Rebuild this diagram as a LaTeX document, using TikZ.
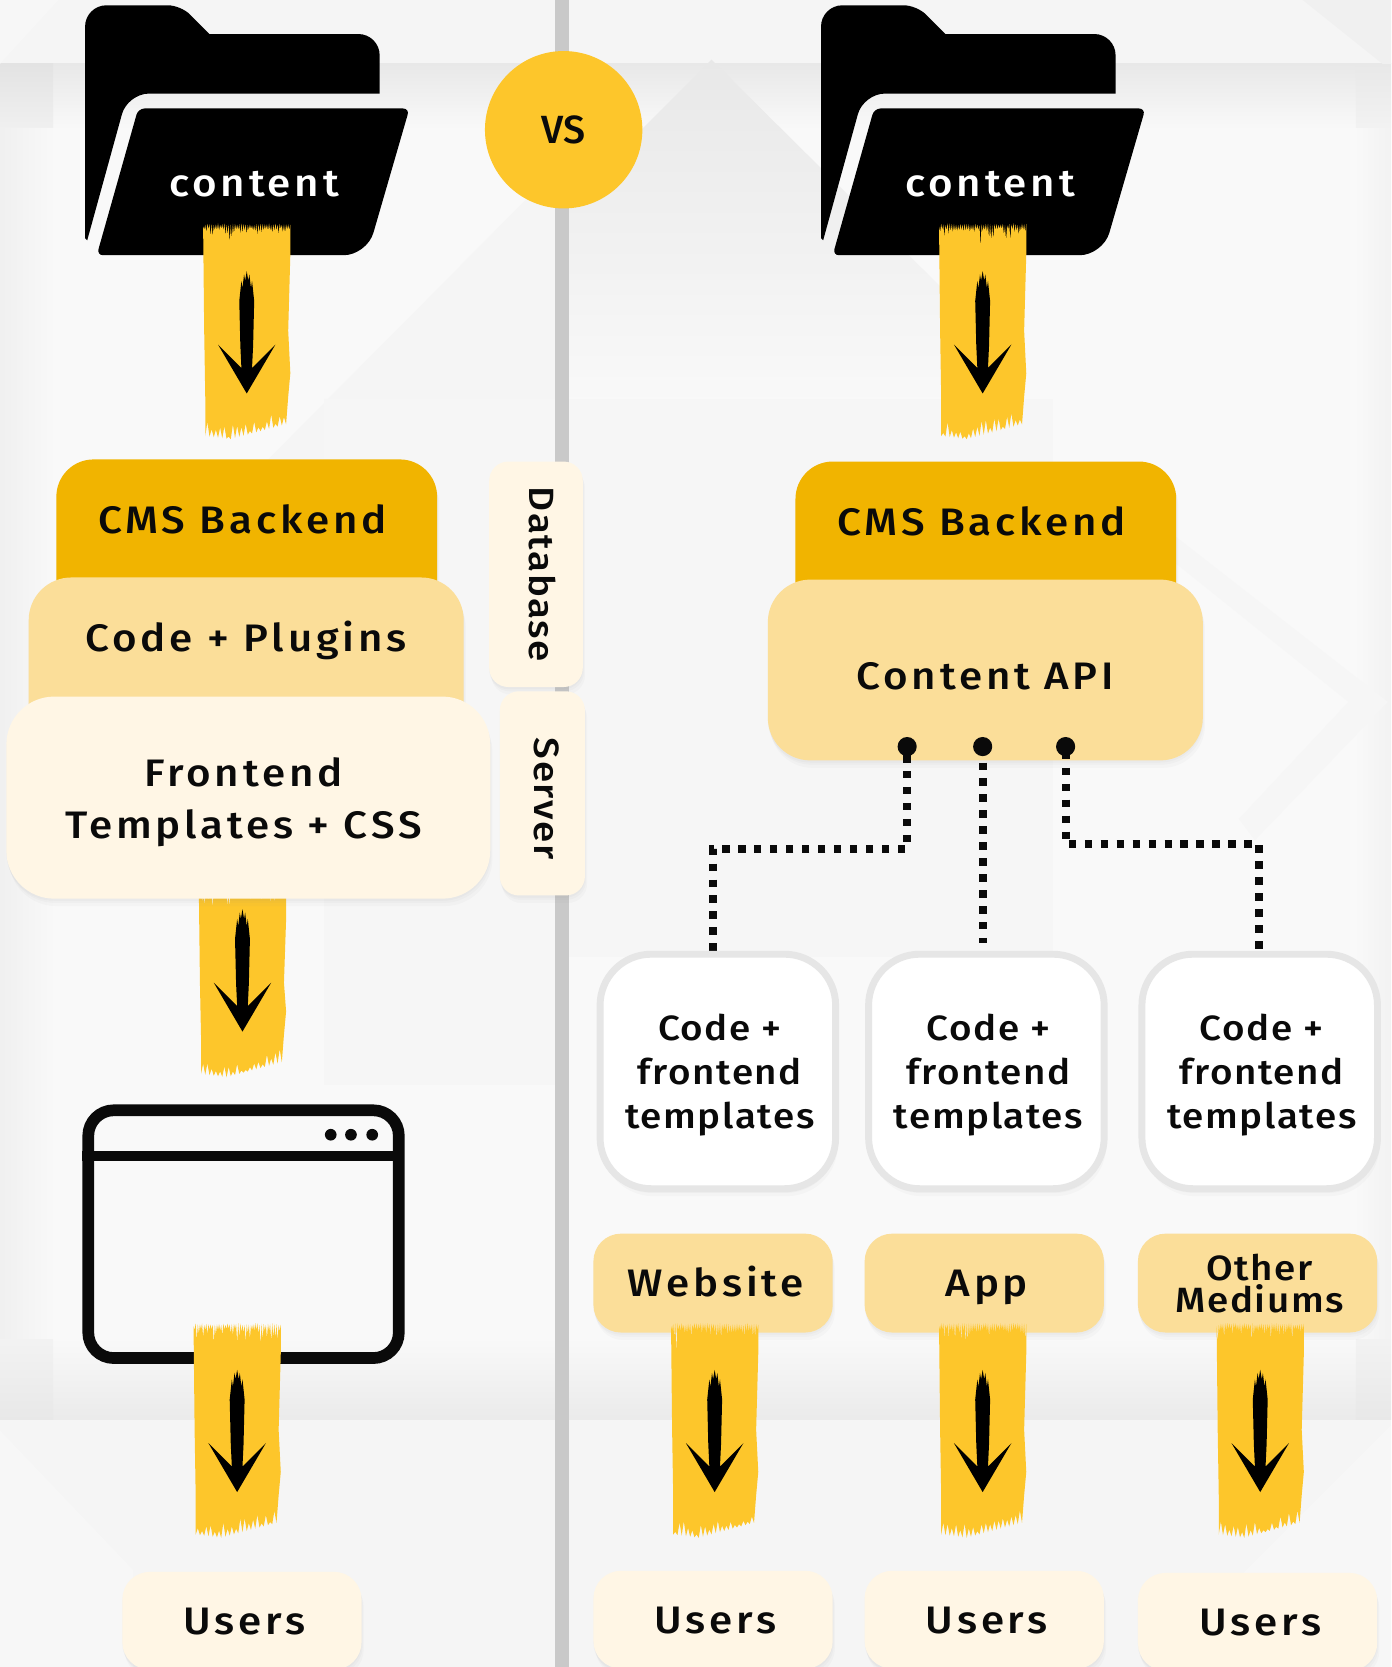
\documentclass[tikz,border=0pt]{standalone}
\usepackage{fontspec}
\usepackage{xcolor}
\usetikzlibrary{shadows}
\newfontfamily\diagfont[LetterSpace=10,FakeStretch=1.1]{Fira Sans Medium}
\newfontfamily\tightfont[LetterSpace=4.5,FakeStretch=1.1]{Fira Sans Medium}
\definecolor{brushyellow}{HTML}{FDC62B}
\definecolor{backendgold}{HTML}{F1B400}
\definecolor{apipeach}{HTML}{FBDE99}
\definecolor{frontcream}{HTML}{FFF6E5}
\definecolor{dividergrey}{HTML}{C9C9C9}
\definecolor{edgegrey}{HTML}{E6E6E6}
\definecolor{inkblack}{HTML}{0A0A0A}
\tikzset{
  softshadow/.style={
    drop shadow={opacity=.04,shadow xshift=0pt,shadow yshift=-2pt},
    drop shadow={opacity=.04,shadow xshift=1pt,shadow yshift=-4pt},
    drop shadow={opacity=.04,shadow xshift=2pt,shadow yshift=-7pt}},
  layerbox/.style={rounded corners=#1,inner sep=0pt,softshadow,text=inkblack,align=center},
  bigtext/.style={font=\diagfont\fontsize{36}{49}\selectfont},
  midtext/.style={font=\tightfont\fontsize{33}{41.5}\selectfont},
  oneline/.style={text height=26pt,text depth=0pt},
  routeline/.style={line width=7.5pt,dash pattern=on 7pt off 8pt,inkblack},
  routedot/.style={circle,fill=inkblack,minimum size=18pt,inner sep=0pt},
}
% one brush stroke with its arrow: centre x, top y, height, arrow start
\newcommand{\brushstroke}[4]{
\begin{scope}[shift={(#1,#2)}]
\fill [brushyellow] (-41,4)
  \foreach \i in {1,...,82} { -- ({-41+\i*1},{1+mod(\i,2)*(5+26*rnd*rnd*rnd)+2*rnd}) }
  -- (41,30) -- (39,{#3*.5}) -- (41,{#3-62}) -- (39,{#3-40}) -- (37,{#3-14})
  \foreach \i in {1,...,38} { -- ({37-\i*2},{#3-14*(1-\i/26)*(\i<26)-(\i/4-6.5)*(\i>=26)-mod(\i,2)*(2+12*rnd)}) }
  -- (-39,{#3-12}) -- (-39,{#3-40}) -- (-40,{#3*.5}) -- cycle ;
\fill [black] (0,#4) -- (1.5,#4+9) -- (2.5,#4+3) -- (4,#4+16) -- (5,#4+9) -- (7,#4+28) -- (6,#4+70) -- (5,#4+91) -- (27,#4+69) -- (0,#4+115)
  -- (-27,#4+69) -- (-5,#4+91) -- (-6,#4+70) -- (-7,#4+28) -- (-5,#4+9) -- (-4,#4+16) -- (-2.5,#4+3) -- (-1.5,#4+9) -- cycle ;
\end{scope}
}
% folder icon, the shift moves it to its column
\newcommand{\foldericon}[1]{
\begin{scope}[shift={(#1,0)}]
\fill [black] (80,224) [rounded corners=20pt] -- (80,5) [rounded corners=12pt] -- (170,5) [sharp corners] -- (197,32)
  [rounded corners=20pt] -- (357,32) [sharp corners] -- (357,88) [rounded corners=20pt] -- (120,88) [sharp corners] -- (82,226) -- cycle ;
\fill [black] (250,102) [rounded corners=6pt] -- (385,102) [rounded corners=22pt] -- (345,240) [rounded corners=6pt]
  -- (91,240) -- (130,102) -- cycle ;
\end{scope}
}
\pgfmathsetseed{11}
\begin{document}
\begin{tikzpicture}[x=1pt,y=-1pt]
\useasboundingbox (0,0) rectangle (1308,1567.5) ;

%backdrop
\fill [color=black!4] (0,0) rectangle (1308,1567.5) ;
\fill [color=black!2.5] (0,60) rectangle (1308,1335) ;
\shade [left color=black!6,right color=black!2.5] (0,60) rectangle (50,1335) ;
\shade [left color=black!2.5,right color=black!5] (1275,60) rectangle (1308,1335) ;
\shade [top color=black!9,bottom color=black!2.5] (50,60) rectangle (1275,120) ;
\shade [top color=black!2.5,bottom color=black!8] (50,1260) rectangle (1275,1335) ;
\shade [top color=black!11,bottom color=black!6] (0,60) rectangle (50,120) ;
\shade [top color=black!9,bottom color=black!5] (1275,60) rectangle (1308,120) ;
\shade [top color=black!5,bottom color=black!9] (0,1260) rectangle (50,1335) ;
\shade [top color=black!5,bottom color=black!9] (1275,1260) rectangle (1308,1335) ;
\shade [top color=black!9,bottom color=black!2] (535,190) -- (669,56) -- (900,285) -- (900,400) -- (535,400) -- cycle ;
\fill [color=black!4] (522,160) -- (252,432) -- (305,432) -- (305,375) -- (522,375) -- cycle ;
\fill [color=black!3.5] (305,375) rectangle (522,1020) ;
\fill [color=black!3.5] (535,375) rectangle (990,900) ;
\fill [color=black!3.5] (1106,505) -- (1305,660) -- (1180,790) -- (1165,770) -- (1268,660) -- (1106,530) -- cycle ;
\fill [color=black!3] (0,0) -- (55,0) -- (0,60) -- cycle ;
\fill [color=black!6] (1225,0) -- (1300,60) -- (1308,60) -- (1308,0) -- cycle ;
\fill [color=black!3] (0,1345) -- (125,1476) -- (125,1567.5) -- (0,1567.5) -- cycle ;
\fill [color=black!3] (1308,1340) -- (1168,1480) -- (1168,1567.5) -- (1308,1567.5) -- cycle ;

%divider
\fill [color=dividergrey] (522,0) rectangle (535,1567.5) ;

%VS badge
\node (vsBadge) [circle,fill=brushyellow,minimum size=148pt,inner sep=0pt,text=inkblack,font=\fontspec{Fira Sans Medium}\fontsize{37}{37}\selectfont] at (530,122) {VS} ;

%folders
\foldericon{0}
\foldericon{692}
\node (contentLeft) [text=white,bigtext] at (239,173) {content} ;
\node (contentRight) [text=white,bigtext] at (931,173) {content} ;

%strokes below the folders
\brushstroke{232}{209}{204}{46}
\brushstroke{924}{209}{204}{46}

%left stack
\brushstroke{228}{835}{178}{20}
\node (backendLeft) [layerbox=35pt,fill=backendgold,bigtext,minimum width=358pt,minimum height=168pt,text height=0pt,text depth=28pt] at (232,516) {CMS Backend\kern8pt} ;
\node (pluginsLeft) [layerbox=40pt,fill=apipeach,bigtext,minimum width=409pt,minimum height=177pt,text height=0pt,text depth=37pt] at (231.5,631.5) {Code + Plugins} ;
\node (frontendLeft) [layerbox=45pt,fill=frontcream,bigtext,minimum width=455pt,minimum height=190pt] at (233.5,750) {\rule{0pt}{36pt}Frontend\kern9pt\\Templates + CSS\kern9pt} ;

%side tabs
\node (databaseTab) [layerbox=18pt,fill=frontcream,midtext,rotate=-90,minimum width=212pt,minimum height=88pt,text height=12pt,text depth=0pt] at (504,540) {Database} ;
\node (serverTab) [layerbox=18pt,fill=frontcream,midtext,rotate=-90,minimum width=192pt,minimum height=80pt,text height=15pt,text depth=0pt] at (510,746) {\kern10pt Server} ;

%browser window
\node (windowFrame) [draw=inkblack,line width=11pt,rounded corners=24pt,minimum width=292pt,minimum height=233pt,inner sep=0pt] at (229,1160.5) {} ;
\coordinate (windowBarEnd) at (375,1087) ;
\draw [line width=9pt,inkblack] (windowFrame.west |- windowBarEnd) -- (windowBarEnd) ;
\foreach \dotx/\dotname in {311/A,330/B,350/C}
  \node (windowDot\dotname) [circle,fill=inkblack,minimum size=11pt,inner sep=0pt] at (\dotx,1067) {} ;
\brushstroke{223}{1243}{203}{45}

%right stack
\node (backendRight) [layerbox=35pt,fill=backendgold,bigtext,minimum width=358pt,minimum height=166pt,text height=0pt,text depth=26pt] at (927,517) {CMS Backend\kern8pt} ;
\node (apiRight) [layerbox=40pt,fill=apipeach,bigtext,minimum width=409pt,minimum height=170pt,text height=36pt,text depth=0pt] at (926.5,630) {Content API} ;

%api outlets
\node (outletA) [routedot] at (853,702) {} ;
\node (outletB) [routedot] at (924,702) {} ;
\node (outletC) [routedot] at (1002,702) {} ;

%routes from the api
\coordinate (routeEndA) at (670,896) ;
\coordinate (routeEndB) at (924,887) ;
\coordinate (routeEndC) at (1184,896) ;
\draw [routeline,dash phase=7pt] (outletA.center) -- ++(0,96) -| (routeEndA) ;
\draw [routeline] (outletB.center) -- (routeEndB) ;
\draw [routeline,dash phase=10pt] (outletC.center) -- ++(0,92) -| (routeEndC) ;

%template boxes
\node (templateA) [layerbox=48pt,fill=white,draw=edgegrey,line width=6.5pt,midtext,minimum width=221.5pt,minimum height=220.5pt] at (675,1007.5) {\rule{0pt}{32pt}\kern4ptCode +\\\kern4ptfrontend\\\kern4pttemplates} ;
\node (templateB) [layerbox=48pt,fill=white,draw=edgegrey,line width=6.5pt,midtext,minimum width=221.5pt,minimum height=220.5pt] at (927.5,1007.5) {\rule{0pt}{32pt}\kern4ptCode +\\\kern4ptfrontend\\\kern4pttemplates} ;
\node (templateC) [layerbox=48pt,fill=white,draw=edgegrey,line width=6.5pt,midtext,minimum width=221.5pt,minimum height=220.5pt] at (1184.5,1007.5) {\rule{0pt}{32pt}\kern4ptCode +\\\kern4ptfrontend\\\kern4pttemplates} ;

%mediums
\node (mediumWeb) [layerbox=26pt,fill=apipeach,bigtext,oneline,minimum width=225pt,minimum height=93pt] at (670.5,1206.5) {\kern5pt Website} ;
\node (mediumApp) [layerbox=26pt,fill=apipeach,bigtext,oneline,minimum width=225pt,minimum height=93pt] at (925.5,1206.5) {\kern5pt App} ;
\node (mediumOther) [layerbox=26pt,fill=apipeach,font=\tightfont\fontsize{33}{30}\selectfont,minimum width=225pt,minimum height=93pt] at (1182.5,1206.5) {\kern4pt Other\\\kern4pt Mediums} ;
\brushstroke{672}{1243}{203}{45}
\brushstroke{924}{1243}{203}{45}
\brushstroke{1185}{1243}{203}{45}

%users
\node (usersLeft) [layerbox=26pt,fill=frontcream,bigtext,oneline,minimum width=225pt,minimum height=92pt] at (227.5,1524) {\kern5pt Users} ;
\node (usersWeb) [layerbox=26pt,fill=frontcream,bigtext,oneline,minimum width=225pt,minimum height=92pt] at (670.5,1523) {\kern5pt Users} ;
\node (usersApp) [layerbox=26pt,fill=frontcream,bigtext,oneline,minimum width=225pt,minimum height=92pt] at (925.5,1523) {\kern5pt Users} ;
\node (usersOther) [layerbox=26pt,fill=frontcream,bigtext,oneline,minimum width=225pt,minimum height=92pt] at (1182.5,1525) {\kern5pt Users} ;

\end{tikzpicture}
\end{document}
